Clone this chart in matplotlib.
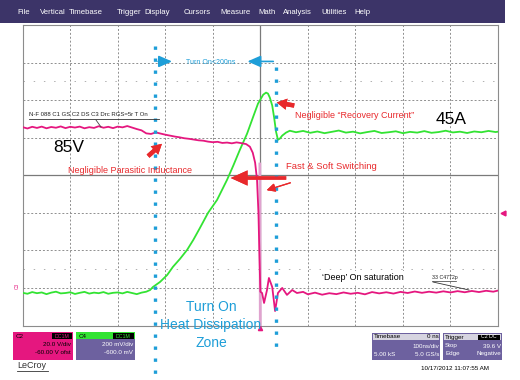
import matplotlib
matplotlib.use('Agg')
import matplotlib.pyplot as plt
from matplotlib.patches import Rectangle
from matplotlib.lines import Line2D

plt.rcParams['font.family'] = ['Liberation Sans', 'DejaVu Sans']

W, H = 520, 380          # output size in pixels

# ---------- scope settings ----------
time_div = 100                          # ns/div
c2_scale, c2_offset = 20.0, -60.0       # V/div, V   (drain-source voltage)
c4_scale, c4_offset = 200.0, -600.0     # mV/div, mV (current probe)

# ---------- C2 : Vds (V) ----------
vds_t = [-500, -490, -480, -470, -460, -450, -440, -430, -420, -410, -400, -390, -380,
         -370, -360, -350, -340, -330, -320, -310, -300, -290, -280, -270, -260, -250,
         -240, -230, -220, -210, -200, -190, -180, -170, -160, -150, -140, -130, -120,
         -110, -100, -90, -80, -70, -60, -50, -40, -30, -22, -16, -11, -7, -4, -2, 0,
         3.6, 7.8, 14, 18, 25, 31, 37, 46, 56, 67, 77, 90,
         100, 115, 130, 145, 160, 175, 190, 205, 220, 235, 250, 265, 280, 295, 310,
         325, 340, 355, 370, 385, 400, 415, 430, 445, 460, 475, 490, 500]
vds_v = [85.6, 84.9, 85.8, 85.2, 85.9, 85.0, 85.7, 85.3, 86.0, 85.1, 85.8, 85.4, 85.9,
         85.0, 85.6, 85.2, 86.1, 85.3, 85.8, 85.1, 85.9, 85.5, 86.2, 85.4, 84.6, 83.9,
         82.3, 82.0, 82.8, 82.2, 81.6, 81.1, 80.6, 80.2, 79.7, 79.4, 79.0, 78.6, 78.4,
         77.9, 77.6, 77.8, 77.2, 77.4, 77.0, 77.5, 77.1, 76.6, 75.2, 72.0, 66.7, 57.6, 40.0, 18.0, -2.0,
         -2.7, -8.0, -1.1, 5.3, 0.5, -12.3, -2.7, 0.0, -3.7, -1.1, -2.7, -2.1,
         -3.4, -2.5, -3.6, -2.8, -3.3, -2.4, -3.1, -2.6, -3.4, -2.2, -2.9, -2.3, -3.0, -2.1, -2.7,
         -1.9, -2.6, -2.0, -2.5, -1.8, -2.4, -1.7, -2.3, -1.6, -2.2, -1.5, -2.0, -1.4]

# persistence trace of the fast falling edge
edge_t = [-1, 0]
edge_v = [66, -26]

# ---------- C4 : Id probe (mV) ----------
id_t = [-500, -490, -480, -470, -460, -450, -440, -430, -420, -410, -400, -390, -380,
        -370, -360, -350, -340, -330, -320, -310, -300, -290, -280, -270, -260, -250, -240,
        -232, -226, -211, -196, -184, -169, -154, -141, -127, -110, -91, -70, -57, -43,
        -28, -15, -5, 6, 12, 16, 20, 25, 29, 33, 37, 41, 46, 54, 62,
        75, 90, 105, 120, 135, 150, 165, 180, 195, 210, 225, 240, 255, 270, 285, 300,
        315, 330, 345, 360, 375, 390, 405, 420, 435, 450, 465, 480, 495, 500]
id_mv = [-26, -31, -22, -28, -24, -33, -25, -20, -29, -27, -23, -32, -26,
         -21, -30, -25, -28, -22, -31, -26, -24, -29, -21, -27, -33, -25, -20,
         -11, 5, 32, 69, 112, 155, 203, 256, 320, 400, 469, 576, 651, 736,
         821, 912, 981, 1029, 1040, 1035, 1013, 971, 907, 832, 789, 795, 811, 827, 837,
         829, 836, 826, 833, 824, 831, 838, 827, 832, 823, 830, 836, 825, 829, 834, 824,
         831, 827, 835, 826, 830, 837, 828, 832, 825, 833, 829, 836, 830, 832]

cursor_t = [-221, 33]          # blue timing cursors (ns)
cursor_top = [3.43, 2.87]      # div
cursor_bottom = [-5.4, -4.65]  # div

menu = ['File', 'Vertical', 'Timebase', 'Trigger', 'Display', 'Cursors', 'Measure',
        'Math', 'Analysis', 'Utilities', 'Help']
menu_x = [17, 40, 69, 117, 144, 184, 220, 258, 283, 321, 354]

MAG = '#e5177f'
GRN = '#33e333'
RED = '#e8292c'
BLU = '#1e9ed8'
PUR = '#6d619f'


def fx(x):
    return x / W


def fy(y):
    return 1 - y / H


def rect(x0, y0, x1, y1, color):
    fig.add_artist(Rectangle((fx(x0), fy(y1)), (x1 - x0) / W, (y1 - y0) / H,
                             transform=fig.transFigure, facecolor=color,
                             edgecolor='none'))


def txt(x, y, s, **kw):
    kw.setdefault('va', 'center')
    fig.text(fx(x), fy(y), s, **kw)


def hline(x0, x1, y, color='black', lw=0.6):
    fig.add_artist(Line2D([fx(x0), fx(x1)], [fy(y), fy(y)], color=color, lw=lw,
                          transform=fig.transFigure))


fig = plt.figure(figsize=(W / 100, H / 100), dpi=100)
fig.patch.set_facecolor('white')

ax = fig.add_axes([fx(22.7), fy(325.5), (498 - 22.7) / W, (325.5 - 25) / H])
ax.set_xlim(-5 * time_div, 5 * time_div)
ax.set_ylim(-4, 4)
ax.set_xticks([i * time_div for i in range(-5, 6)])
ax.set_yticks(range(-4, 5))
ax.tick_params(length=0, labelbottom=False, labelleft=False)
ax.grid(True, color='#8f8f8f', lw=0.7, linestyle=(0, (2, 2)))
for s in ax.spines.values():
    s.set_color('#8c8c8c')
    s.set_linewidth(0.8)
ax.axhline(0, color='#7a7a7a', lw=0.9)
ax.axvline(0, color='#7a7a7a', lw=0.9)
for yv in [2.5, -2.5]:
    ax.axhline(yv, color='#b0b0b0', lw=0.7, linestyle=(0, (1.5, 9)))

# traces (converted to divisions)
vds_div = [(v + c2_offset) / c2_scale for v in vds_v]
id_div = [(m + c4_offset) / c4_scale for m in id_mv]
edge_div = [(v + c2_offset) / c2_scale for v in edge_v]
ax.plot(edge_t, edge_div, color='#e0a3cf', lw=2.0, zorder=3)
ax.plot(id_t, id_div, color=GRN, lw=1.3, zorder=4)
ax.plot(vds_t, vds_div, color=MAG, lw=1.3, zorder=5)

# timing cursors
for t, top, bot in zip(cursor_t, cursor_top, cursor_bottom):
    ax.plot([t, t], [top, bot], color=BLU, lw=2.4, linestyle=(0, (1, 2.6)),
            clip_on=False, zorder=6)

# Turn On < 200ns marker
arr_y = 3.03
ax.annotate('', xy=(-180, arr_y), xytext=(cursor_t[0], arr_y),
            arrowprops=dict(arrowstyle='-|>,head_length=0.8,head_width=0.35', color=BLU, lw=1.2))
ax.annotate('', xy=(-33, arr_y), xytext=(cursor_t[1], arr_y),
            arrowprops=dict(arrowstyle='-|>,head_length=0.8,head_width=0.35', color=BLU, lw=1.2))
txt(211, 62, 'Turn On<200ns', ha='center', fontsize=5, color=BLU, zorder=7)

# ---------- menu bar ----------
rect(0, 0, 505, 23, '#3c3468')
for m, x in zip(menu, menu_x):
    txt(x, 12.5, m, fontsize=5.6, color='white')

# ---------- annotations ----------
txt(29, 115, 'N-F 088 C1 GS C2 DS C3 Drc RGS=5r T On', fontsize=4.3, color='#222222')
hline(29, 159, 119, color='#333333', lw=0.6)
fig.add_artist(Line2D([fx(96), fx(101)], [fy(120), fy(127)], color='#444444', lw=0.6,
                      transform=fig.transFigure))

txt(53, 148, '85V', fontsize=12.5, color='black')
txt(436, 120, '45A', fontsize=12.5, color='black')

txt(68, 170, 'Negligible Parasitic Inductance', fontsize=6.5, color=RED)
txt(295, 116, 'Negligible \u201cRecovery Current\u201d', fontsize=6.5, color=RED)
txt(286, 167, 'Fast & Soft Switching', fontsize=6.8, color=RED)

fat = dict(arrowstyle='simple,head_width=0.9,head_length=0.8,tail_width=0.35',
           color=RED, lw=0)
fig.add_artist(plt.annotate('', xy=(fx(164), fy(142)), xytext=(fx(146), fy(158)),
                            xycoords='figure fraction', textcoords='figure fraction',
                            arrowprops=dict(fat, mutation_scale=9)))
fig.add_artist(plt.annotate('', xy=(fx(274), fy(102)), xytext=(fx(297), fy(106)),
                            xycoords='figure fraction', textcoords='figure fraction',
                            arrowprops=dict(fat, mutation_scale=9)))
fig.add_artist(plt.annotate('', xy=(fx(228), fy(178)), xytext=(fx(289), fy(178)),
                            xycoords='figure fraction', textcoords='figure fraction',
                            arrowprops=dict(arrowstyle='simple,head_width=1.0,head_length=1.1,tail_width=0.22',
                                            color=RED, lw=0, mutation_scale=11)))
fig.add_artist(plt.annotate('', xy=(fx(264), fy(191)), xytext=(fx(293), fy(182)),
                            xycoords='figure fraction', textcoords='figure fraction',
                            arrowprops=dict(arrowstyle='-|>,head_length=0.5,head_width=0.25',
                                            color=RED, lw=0.9)))

txt(363, 278, '\u2018Deep\u2019 On saturation', ha='center', fontsize=6.5, color='black',
    bbox=dict(facecolor='white', edgecolor='none', pad=1.5), zorder=8)
txt(432, 277, '33 C4772p', fontsize=3.8, color='#222222', zorder=8)
hline(432, 456, 281, color='#333333', lw=0.5)
fig.add_artist(Line2D([fx(433), fx(469)], [fy(282), fy(290)], color='#333333', lw=0.6,
                      transform=fig.transFigure))

for line, y in zip(['Turn On', 'Heat Dissipation', 'Zone'], [307, 325, 343]):
    txt(211, y, line, ha='center', fontsize=10, color=BLU, zorder=9)

# channel markers
fig.add_artist(Line2D([fx(503)], [fy(213)], marker='<', color=MAG, markersize=3.5,
                      transform=fig.transFigure))
fig.add_artist(Line2D([fx(260)], [fy(328)], marker='^', color=MAG, markersize=3,
                      transform=fig.transFigure))
txt(17, 286, 'C3', fontsize=3.5, color=MAG, rotation=90, ha='center')

# ---------- info boxes ----------
rect(13, 332, 73, 360, MAG)
txt(16, 336, 'C2', fontsize=4.5, color='black')
rect(52, 333, 72, 339, 'black')
txt(62, 336, 'DC1M', fontsize=3.8, color=MAG, ha='center')
txt(71, 345, '20.0 V/div', fontsize=4.5, color='black', ha='right')
txt(71, 353, '-60.00 V ofst', fontsize=4.5, color='black', ha='right')

rect(76, 332, 135, 360, PUR)
rect(76, 332, 135, 339, GRN)
txt(79, 336, 'C4', fontsize=4.5, color='black')
rect(113, 333, 134, 338.5, 'black')
txt(123.5, 336, 'DC1M', fontsize=3.8, color=GRN, ha='center')
txt(133, 345, '200 mV/div', fontsize=4.5, color='white', ha='right')
txt(133, 353, '-600.0 mV', fontsize=4.5, color='white', ha='right')

txt(17, 366, 'LeCroy', fontsize=6.5, color='#333333')
hline(17, 48, 371, color='#333333', lw=0.6)

rect(372, 333, 440, 360, PUR)
rect(373, 334, 439, 340, '#d6d4e0')
txt(374, 337, 'Timebase', fontsize=4.5, color='black')
txt(439, 337, '0 ns', fontsize=4.5, color='black', ha='right')
txt(439, 346, '100ns/div', fontsize=4.5, color='white', ha='right')
txt(374, 354, '5.00 kS', fontsize=4.5, color='white')
txt(439, 354, '5.0 GS/s', fontsize=4.5, color='white', ha='right')

rect(443, 333, 502, 360, PUR)
rect(444, 334, 501, 340, '#d6d4e0')
txt(445, 337, 'Trigger', fontsize=4.5, color='black')
rect(478, 334.5, 500, 339.5, 'black')
txt(489, 337, 'C2 DC', fontsize=3.8, color='white', ha='center')
txt(445, 346, 'Stop', fontsize=4.5, color='white')
txt(501, 346, '39.6 V', fontsize=4.5, color='white', ha='right')
txt(445, 354, 'Edge', fontsize=4.5, color='white')
txt(501, 354, 'Negative', fontsize=4.5, color='white', ha='right')

txt(455, 368, '10/17/2012 11:07:55 AM', fontsize=4.5, color='black', ha='center')

fig.savefig('out.png', dpi=100)
